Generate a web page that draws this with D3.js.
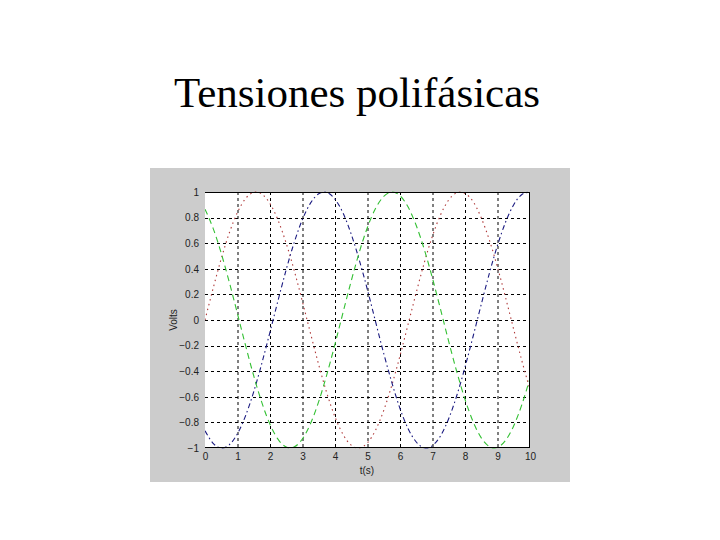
<!DOCTYPE html>
<html><head><meta charset="utf-8">
<script src="https://cdn.jsdelivr.net/npm/d3@7"></script>
<style>body{margin:0;background:#fff}svg{display:block}</style>
</head><body>
<script>
const title = "Tensiones polifásicas";
const xLabel = "t(s)";
const yLabel = "Volts";
const xTicks = [0,1,2,3,4,5,6,7,8,9,10];
const yTicks = [-1,-0.8,-0.6,-0.4,-0.2,0,0.2,0.4,0.6,0.8,1];
const t = [0,0.25,0.5,0.75,1,1.25,1.5,1.75,2,2.25,2.5,2.75,3,3.25,3.5,3.75,4,4.25,4.5,4.75,5,5.25,5.5,5.75,6,6.25,6.5,6.75,7,7.25,7.5,7.75,8,8.25,8.5,8.75,9,9.25,9.5,9.75,10];
const phaseA = [0,0.247,0.479,0.682,0.841,0.949,0.997,0.984,0.909,0.778,0.598,0.382,0.141,-0.108,-0.351,-0.572,-0.757,-0.895,-0.978,-0.999,-0.959,-0.859,-0.706,-0.508,-0.279,-0.033,0.215,0.450,0.657,0.823,0.938,0.994,0.989,0.925,0.798,0.624,0.412,0.174,-0.075,-0.319,-0.544];
const phaseB = [-0.866,-0.963,-1.000,-0.974,-0.888,-0.747,-0.560,-0.337,-0.094,0.155,0.395,0.610,0.787,0.915,0.986,0.996,0.944,0.834,0.670,0.466,0.234,-0.015,-0.262,-0.490,-0.692,-0.849,-0.953,-0.998,-0.981,-0.904,-0.770,-0.588,-0.369,-0.127,0.122,0.365,0.583,0.766,0.901,0.981,0.999];
const phaseC = [0.866,0.716,0.521,0.293,0.048,-0.201,-0.437,-0.646,-0.815,-0.933,-0.993,-0.991,-0.928,-0.807,-0.636,-0.425,-0.188,0.061,0.306,0.532,0.725,0.873,0.966,1.000,0.971,0.882,0.738,0.549,0.325,0.081,-0.169,-0.407,-0.620,-0.795,-0.921,-0.989,-0.995,-0.940,-0.826,-0.661,-0.455];

const W = 720, H = 540;
const svg = d3.select("body").append("svg").attr("width", W).attr("height", H);

svg.append("text").attr("x", 357).attr("y", 107).attr("text-anchor", "middle")
  .attr("font-family", "'Liberation Serif','Times New Roman',serif").attr("font-size", 43)
  .attr("fill", "#000").text(title);

// figure background
svg.append("rect").attr("x", 150).attr("y", 168).attr("width", 420).attr("height", 314).attr("fill", "#cccccc");

const m = {l:205, t:192, r:530, b:448};
const x = d3.scaleLinear().domain([0,10]).range([m.l, m.r]);
const y = d3.scaleLinear().domain([-1,1]).range([m.b, m.t]);

svg.append("rect").attr("x", m.l).attr("y", m.t).attr("width", m.r-m.l).attr("height", m.b-m.t).attr("fill", "#fff");

const g = svg.append("g");
// grid
g.selectAll("line.gx").data(xTicks.slice(1,-1)).join("line")
  .attr("x1", d=>x(d)+0.5).attr("x2", d=>x(d)+0.5).attr("y1", m.t).attr("y2", m.b)
  .attr("stroke", "#000").attr("stroke-width", 1).attr("stroke-dasharray", "3,3");
g.selectAll("line.gy").data(yTicks.slice(1,-1)).join("line")
  .attr("y1", d=>Math.round(y(d))+0.5).attr("y2", d=>Math.round(y(d))+0.5).attr("x1", m.l).attr("x2", m.r)
  .attr("stroke", "#000").attr("stroke-width", 1).attr("stroke-dasharray", "3,3");

const line = d3.line().x(d=>x(d[0])).y(d=>y(d[1])).curve(d3.curveNatural);
const clip = svg.append("clipPath").attr("id","pc").append("rect")
  .attr("x", m.l).attr("y", m.t-1).attr("width", m.r-m.l).attr("height", m.b-m.t+2);
const series = [
  {v: phaseA, c: "#b03a3a", dash: "1.5,3.5"},
  {v: phaseB, c: "#1a1a80", dash: "5,3,1.5,3"},
  {v: phaseC, c: "#33c033", dash: "6,4"}
];
series.forEach(s => {
  svg.append("path").attr("clip-path","url(#pc)")
    .datum(t.map((tt,i)=>[tt, s.v[i]]))
    .attr("d", line).attr("fill","none").attr("stroke", s.c).attr("stroke-width", 1.1)
    .attr("stroke-dasharray", s.dash);
});

// axes box (top, right, bottom)
svg.append("line").attr("x1", m.l).attr("x2", m.r).attr("y1", m.t+0.5).attr("y2", m.t+0.5).attr("stroke","#000");
svg.append("line").attr("x1", m.r-0.5).attr("x2", m.r-0.5).attr("y1", m.t).attr("y2", m.b).attr("stroke","#000");
svg.append("line").attr("x1", m.l).attr("x2", m.r).attr("y1", m.b-0.5).attr("y2", m.b-0.5).attr("stroke","#000");

const fnt = "'Liberation Sans',Arial,sans-serif";
const xa = svg.append("g").attr("transform", `translate(0,${m.b})`)
  .call(d3.axisBottom(x).tickValues(xTicks).tickSize(0).tickPadding(5).tickFormat(d3.format("d")));
xa.select(".domain").remove();
xa.selectAll("text").attr("font-family", fnt).attr("font-size", 10).attr("fill", "#222");
const ya = svg.append("g").attr("transform", `translate(${m.l},0)`)
  .call(d3.axisLeft(y).tickValues(yTicks).tickSize(0).tickPadding(6).tickFormat(d=>d3.format("")(+d.toFixed(1))));
ya.select(".domain").remove();
ya.selectAll("text").attr("font-family", fnt).attr("font-size", 10).attr("fill", "#222");

svg.append("text").attr("x", 367).attr("y", 474).attr("text-anchor","middle")
  .attr("font-family", fnt).attr("font-size", 10).attr("fill","#222").text(xLabel);
svg.append("text").attr("transform", "translate(177,320) rotate(-90)").attr("text-anchor","middle")
  .attr("font-family", fnt).attr("font-size", 10).attr("fill","#222").text(yLabel);
</script>
</body></html>
